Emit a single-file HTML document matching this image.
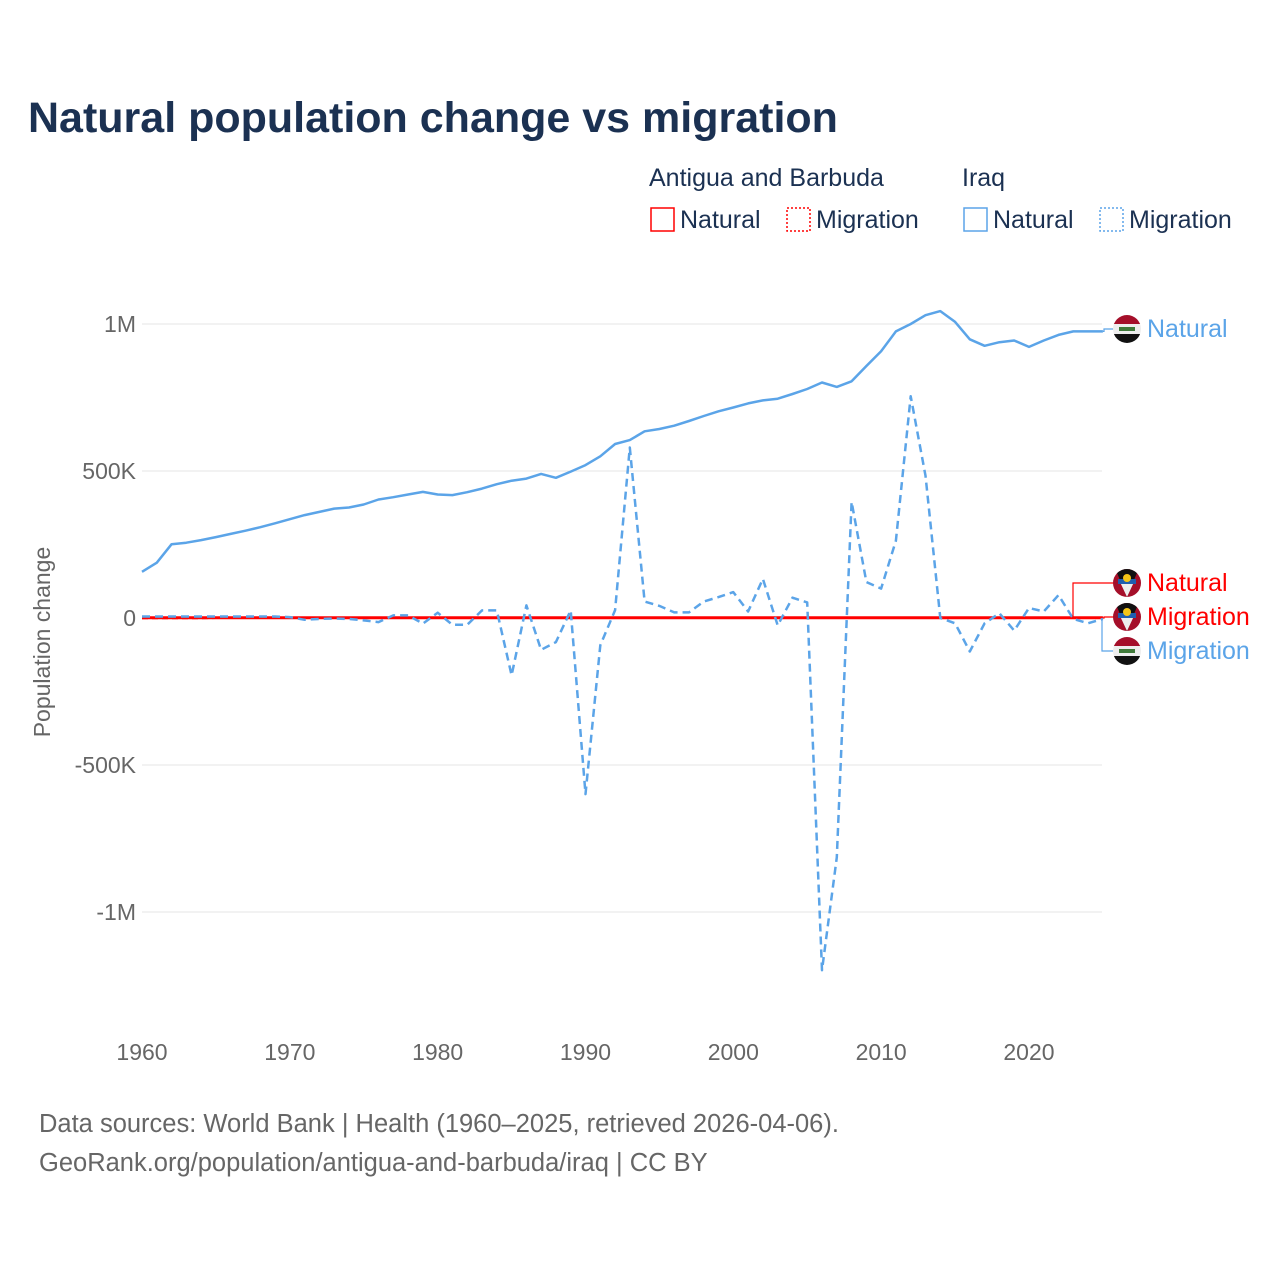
<!DOCTYPE html>
<html><head><meta charset="utf-8">
<style>
body{margin:0;background:#fff;font-family:"Liberation Sans",sans-serif;}
svg text{font-family:"Liberation Sans",sans-serif;}
</style></head>
<body>
<svg id="chart" width="1280" height="1280" viewBox="0 0 1280 1280" xmlns="http://www.w3.org/2000/svg">
<defs>
<clipPath id="c1"><circle cx="0" cy="0" r="14"/></clipPath>
</defs>
<text x="28" y="132" font-size="43" font-weight="bold" fill="#1b3152">Natural population change vs migration</text>
<g font-size="25" fill="#1b3152">
<text x="649" y="186">Antigua and Barbuda</text>
<text x="962" y="186">Iraq</text>
<g><rect x="651" y="208" width="23" height="23" fill="none" stroke="#f00" stroke-width="1.5"/><text x="680" y="228">Natural</text></g>
<g><rect x="787" y="208" width="23" height="23" fill="none" stroke="#f00" stroke-width="1.5" stroke-dasharray="2,2"/><text x="816" y="228">Migration</text></g>
<g><rect x="964" y="208" width="23" height="23" fill="none" stroke="#5ba4e8" stroke-width="1.5"/><text x="993" y="228">Natural</text></g>
<g><rect x="1100" y="208" width="23" height="23" fill="none" stroke="#5ba4e8" stroke-width="1.5" stroke-dasharray="2,2"/><text x="1129" y="228">Migration</text></g>
</g>
<text transform="translate(50,642) rotate(-90)" text-anchor="middle" font-size="23" fill="#666">Population change</text>
<g id="grid"></g>
<g id="series"></g>
<g id="labels"></g>
<text x="39" y="1132" font-size="25.5" fill="#666">Data sources: World Bank | Health (1960–2025, retrieved 2026-04-06).</text>
<text x="39" y="1171" font-size="25.5" fill="#666">GeoRank.org/population/antigua-and-barbuda/iraq | CC BY</text>
</svg>
<script>
const years = [];
for (let y = 1960; y <= 2025; y++) years.push(y);
const iraqNatural = [157,188,251,256,265,275,286,297,309,322,336,350,361,372,376,386,403,411,420,429,420,418,428,440,455,467,474,490,477,498,520,550,592,605,635,643,654,670,687,703,716,730,740,746,762,779,801,786,805,857,907,975,1000,1030,1044,1007,948,926,938,944,922,944,963,975,975,975];
const iraqMigration = [5,5,5,5,5,5,5,5,5,5,3,-6,-3,-2,-3,-8,-14,9,9,-19,18,-23,-23,26,26,-195,43,-108,-82,26,-599,-93,27,580,56,41,19,19,56,71,88,22,133,-25,69,53,-1198,-814,395,122,100,263,754,484,0,-18,-114,-18,16,-43,34,22,78,-3,-18,-3];
const abNatural = [1,1,1,1,1,1,1,1,1,1,1,1,1,1,1,1,1,1,1,1,1,1,1,1,1,1,1,1,1,1,1,1,1,1,1,1,1,1,1,1,1,1,1,1,1,1,1,1,1,1,1,1,1,1,1,1,1,1,1,1,1,1,1,1,1,1];
const abMigration = [-1,-1,-1,-1,-1,0,0,0,0,0,0,0,0,0,0,0,0,0,0,0,0,0,0,0,0,0,0,0,0,0,0,0,0,0,0,0,0,0,0,0,0,0,0,0,0,0,0,0,0,0,0,0,0,0,0,0,0,0,0,0,0,0,0,0,0,0];
const yTicks = [1000,500,0,-500,-1000];
const yTickLabels = ["1M","500K","0","-500K","-1M"];
const xTicks = [1960,1970,1980,1990,2000,2010,2020];

const NS = "http://www.w3.org/2000/svg";
const X = yr => 142 + (yr - 1960) * 14.783;
const Y = v => 618 - v * 0.294;
function mk(tag, attrs, parent){ const e=document.createElementNS(NS,tag); for(const k in attrs) e.setAttribute(k,attrs[k]); parent.appendChild(e); return e; }
const grid=document.getElementById('grid'), ser=document.getElementById('series'), lab=document.getElementById('labels');
yTicks.forEach((t,i)=>{
  const l=mk('line',{x1:142,x2:1102,y1:Y(t),y2:Y(t),stroke:'#e6e6e6','stroke-width':1},grid);
  
  
  const tx=mk('text',{x:136,y:Y(t)+8,'text-anchor':'end','font-size':23,fill:'#666'},grid);
  tx.textContent=yTickLabels[i];
  
  
});
xTicks.forEach(t=>{
  const tx=mk('text',{x:X(t),y:1060,'text-anchor':'middle','font-size':23,fill:'#666'},grid);
  tx.textContent=t;
  
  
});
function path(vals,color,dash,w){
  const d=vals.map((v,i)=>(i?'L':'M')+X(years[i]).toFixed(1)+','+Y(v).toFixed(1)).join('');
  return mk('path',{d:d,fill:'none',stroke:color,'stroke-width':w,'stroke-dasharray':dash||'none','stroke-linejoin':'round'},ser);
}
let p;
p=path(abNatural,'#ff0000',null,3);


p=path(abMigration,'#ff0000','6,4',2);


p=path(iraqNatural,'#5ba4e8',null,2.5);


p=path(iraqMigration,'#5ba4e8','8,5',2.5);



const lastX = X(years[years.length-1]);
function conn(x0,y0,xm,y1,color){ mk('polyline',{points:`${x0},${y0} ${xm},${y0} ${xm},${y1} 1114,${y1}`,fill:'none',stroke:color,'stroke-width':1.2},lab); }
conn(lastX,Y(iraqNatural[iraqNatural.length-1]),1104,329,'#5ba4e8');
conn(1073,Y(abNatural[abNatural.length-1]),1073,583,'#ff0000');
conn(lastX,Y(abMigration[abMigration.length-1]),1104,617,'#ff0000');
conn(lastX,Y(iraqMigration[iraqMigration.length-1]),1102,651,'#5ba4e8');
function flag(cx,cy,type){
  const g=mk('g',{transform:`translate(${cx},${cy})`,'clip-path':'url(#c1)'},lab);
  if(type==='iq'){
    mk('rect',{x:-15,y:-15,width:30,height:10,fill:'#a50f2a'},g);
    mk('rect',{x:-15,y:-5,width:30,height:10,fill:'#eee'},g);
    mk('rect',{x:-15,y:5,width:30,height:10,fill:'#111'},g);
    mk('rect',{x:-8,y:-2,width:16,height:4,fill:'#3f7a3a'},g);
  } else {
    mk('rect',{x:-15,y:-15,width:30,height:30,fill:'#a50f2a'},g);
    mk('polygon',{points:'-12,-15 12,-15 0,14',fill:'#111'},g);
    mk('polygon',{points:'-7,-1 7,-1 0,14',fill:'#eee'},g);
    mk('rect',{x:-9,y:-4,width:18,height:5,fill:'#1f5fb0'},g);
    mk('circle',{cx:0,cy:-5,r:4,fill:'#f5c518'},g);
  }
  
  
}
const ends=[[329,'iq','Natural','#5ba4e8'],[583,'ag','Natural','#ff0000'],[617,'ag','Migration','#ff0000'],[651,'iq','Migration','#5ba4e8']];
ends.forEach(e=>{
  flag(1127,e[0],e[1]);
  const t=mk('text',{x:1147,y:e[0]+8,'font-size':25,fill:e[3]},lab);
  t.textContent=e[2];
  
  
});
</script>
</body></html>
